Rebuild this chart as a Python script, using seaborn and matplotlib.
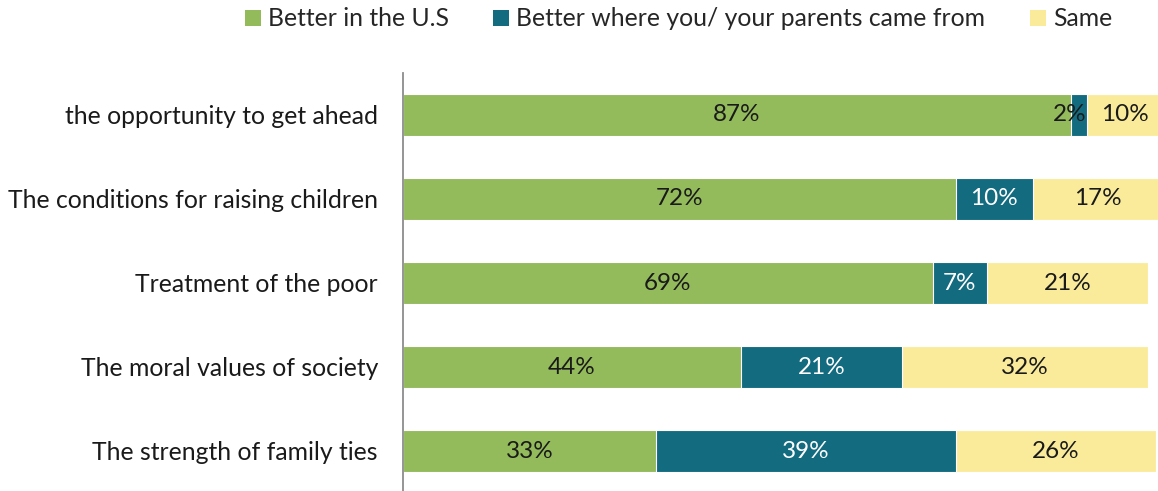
import matplotlib
matplotlib.use("Agg")
import matplotlib.pyplot as plt
from matplotlib.patches import Patch
import seaborn as sns
import pandas as pd
import numpy as np

categories = [
    "the opportunity to get ahead",
    "The conditions for raising children",
    "Treatment of the poor",
    "The moral values of society",
    "The strength of family ties",
]
better_us = [87, 72, 69, 44, 33]
better_origin = [2, 10, 7, 21, 39]
same = [10, 17, 21, 32, 26]
series_names = ["Better in the U.S", "Better where you/ your parents came from", "Same"]

GREEN = "#93BA5B"
TEAL = "#136B80"
YELLOW = "#FAEB9B"

sns.set_style("white")
plt.rcParams["font.family"] = ["Lato", "DejaVu Sans"]

df = pd.DataFrame({
    "category": categories,
    "us": better_us,
    "origin": better_origin,
    "same": same,
})
df["cum2"] = df["us"] + df["origin"]
df["cum3"] = df["cum2"] + df["same"]

fig = plt.figure(figsize=(11.58, 4.91), dpi=100)
ax = fig.add_axes([403 / 1158, -2 / 491, 768 / 1158, 420 / 491])

# stacked look: draw cumulative totals from largest to smallest
for col, color in [("cum3", YELLOW), ("cum2", TEAL), ("us", GREEN)]:
    sns.barplot(data=df, x=col, y="category", orient="h", color=color,
                width=0.5, edgecolor="white", linewidth=0.8, ax=ax,
                saturation=1)

fs = 17.8
ax.set_xlim(0, 100)
ax.set_ylim(4.5, -0.5)
ax.set_xlabel("")
ax.set_ylabel("")
ax.set_xticks([])
for s in ["top", "right", "bottom"]:
    ax.spines[s].set_visible(False)
ax.spines["left"].set_color("#8C8C8C")
ax.spines["left"].set_linewidth(1.3)
ax.tick_params(axis="y", length=0, pad=18, labelsize=fs, labelcolor="#1a1a1a")

for i in range(len(categories)):
    a, b, c = better_us[i], better_origin[i], same[i]
    ax.text(a / 2, i, f"{a}%", ha="center", va="center", fontsize=17.5, color="#1a1a1a")
    tcol = "white" if b >= 5 else "#1a1a1a"
    bx = a + b / 2 if b >= 5 else a + b
    ax.text(bx, i, f"{b}%", ha="right" if b < 5 else "center", va="center",
            fontsize=17.5, color=tcol)
    ax.text(a + b + c / 2, i, f"{c}%", ha="center", va="center", fontsize=17.5, color="#1a1a1a")

handles = [Patch(facecolor=col, edgecolor="none") for col in (GREEN, TEAL, YELLOW)]
fig.legend(handles, series_names, loc="center left", bbox_to_anchor=(245 / 1158, 1 - 19 / 491),
           ncol=3, frameon=False, fontsize=17.8, handlelength=0.63, handleheight=0.63,
           handletextpad=0.3, columnspacing=1.8, borderaxespad=0.0, borderpad=0.0)

fig.savefig("out.png", dpi=100)
